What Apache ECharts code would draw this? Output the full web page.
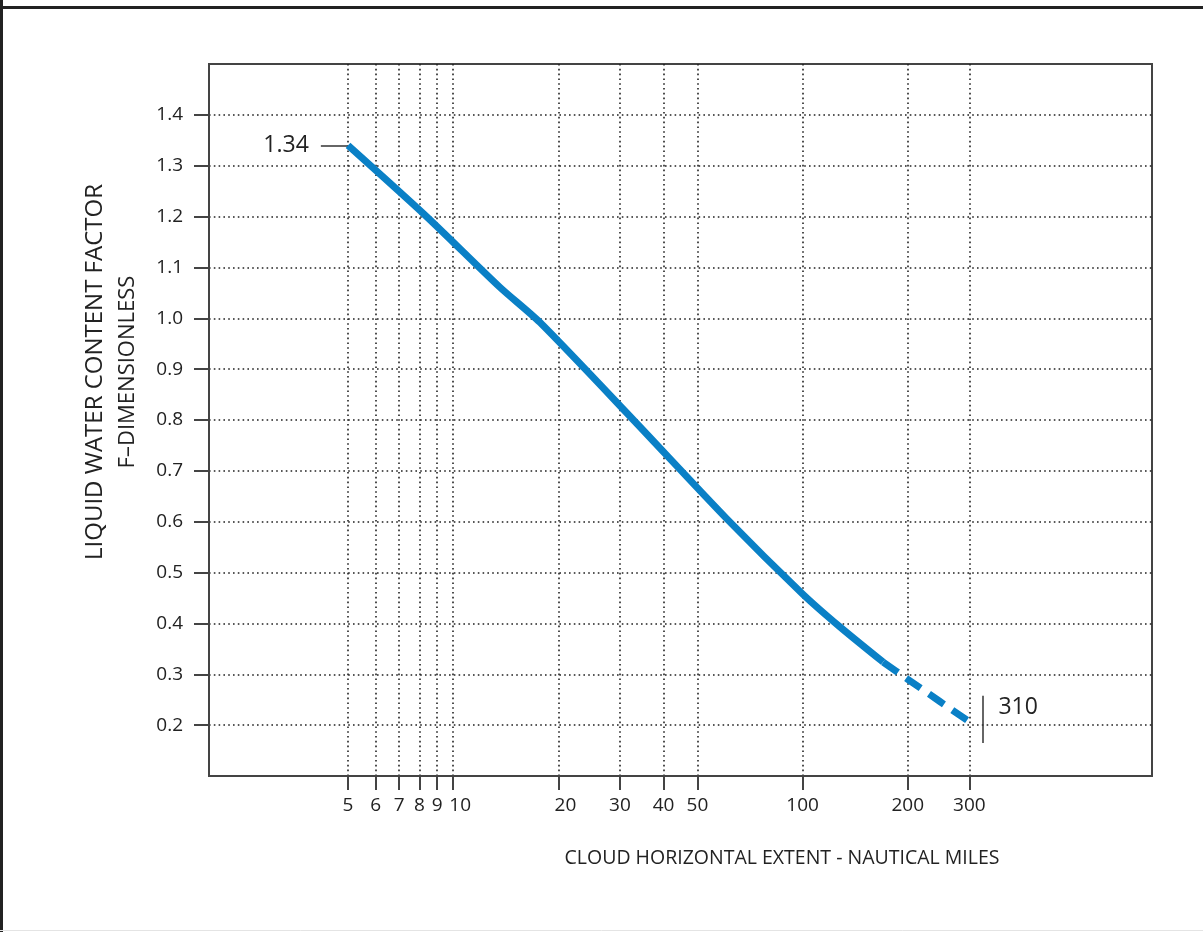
<!DOCTYPE html>
<html>
<head>
<meta charset="utf-8">
<script src="https://cdn.jsdelivr.net/npm/echarts@6/dist/echarts.min.js"></script>
<style>
html,body{margin:0;padding:0;background:#fff;}
#c{width:1203px;height:932px;}
</style>
</head>
<body>
<div id="c"></div>
<script>
// ---- data ----
const xTicks = [5, 6, 7, 8, 9, 10, 20, 30, 40, 50, 100, 200, 300];
const yTicks = [0.2, 0.3, 0.4, 0.5, 0.6, 0.7, 0.8, 0.9, 1.0, 1.1, 1.2, 1.3, 1.4];
// solid part of the curve: [miles, factor]
const solidX = [5, 8.39, 13.6, 17.7, 32.8, 60.6, 100, 128, 170];
const solidY = [1.34, 1.20, 1.061, 0.992, 0.80, 0.606, 0.458, 0.393, 0.324];
// dashed (extrapolated) part
const dashX = [170, 200, 310];
const dashY = [0.324, 0.29, 0.20];
// annotations
const startLabel = '1.34';
const endLabel = '310';
const xTitle = 'CLOUD HORIZONTAL EXTENT - NAUTICAL MILES';
const yTitle1 = 'LIQUID WATER CONTENT FACTOR';
const yTitle2 = 'F\u2013DIMENSIONLESS';

const zip = (a, b) => a.map((v, i) => [v, b[i]]);
const FONT = '"Open Sans", "DejaVu Sans", sans-serif';
const BLUE = '#0a80c6';
const DARK = '#333';

const chart = echarts.init(document.getElementById('c'), null, {renderer: 'canvas'});
chart.setOption({
  animation: false,
  backgroundColor: '#fff',
  grid: {left: 209, top: 64, right: 51, bottom: 156, show: true, borderColor: '#444', borderWidth: 2, backgroundColor: 'transparent'},
  xAxis: {
    type: 'log', logBase: 10, min: 2, max: 1000,
    axisLine: {show: true, onZero: false, lineStyle: {color: '#444', width: 2}},
    axisTick: {show: true, inside: false, length: 14, customValues: xTicks, lineStyle: {color: '#444', width: 2}},
    axisLabel: {
      show: true, customValues: xTicks, margin: 20, color: '#222', fontSize: 19, fontFamily: FONT,
      formatter: v => { const r = Math.round(v); return (r === 10 || r === 20) ? '{s|' + r + '}' : String(r); },
      rich: {s: {color: '#222', fontSize: 19, fontFamily: FONT, padding: [0, 0, 0, 14]}}
    },
    splitLine: {show: true, lineStyle: {color: '#222', width: 1.6, type: [1.6, 3.2]}},
    minorTick: {show: false}, minorSplitLine: {show: false}
  },
  yAxis: {
    type: 'value', min: 0.1, max: 1.5, interval: 0.1,
    axisLine: {show: true, onZero: false, lineStyle: {color: '#444', width: 2}},
    axisTick: {show: true, inside: false, length: 15, customValues: yTicks, lineStyle: {color: '#444', width: 2}},
    axisLabel: {show: true, customValues: yTicks, margin: 26, color: '#222', fontSize: 19, fontFamily: FONT, formatter: v => v.toFixed(1)},
    splitLine: {show: true, lineStyle: {color: '#222', width: 1.6, type: [1.6, 3.2]}}
  },
  series: [
    {
      type: 'line', data: zip(solidX, solidY), smooth: 0.25, showSymbol: false, symbol: 'none',
      lineStyle: {color: BLUE, width: 7, cap: 'butt'}, z: 5,
      markLine: {
        silent: true, symbol: 'none', animation: false,
        lineStyle: {color: DARK, width: 1.5, type: 'solid'},
        label: {show: true, position: 'start', distance: 12, formatter: startLabel, color: '#222', fontSize: 23, fontFamily: FONT},
        data: [[{coord: [4.18, 1.34]}, {coord: [5, 1.34]}]]
      }
    },
    {
      type: 'line', data: zip(dashX, dashY), smooth: 0.2, showSymbol: false, symbol: 'none',
      lineStyle: {color: BLUE, width: 7, type: [18, 10], cap: 'butt'}, z: 5,
      markLine: {
        silent: true, symbol: 'none', animation: false,
        lineStyle: {color: DARK, width: 1.5, type: 'solid'},
        label: {show: false},
        data: [[{coord: [327, 0.165]}, {coord: [327, 0.258]}]]
      },
      markPoint: {
        silent: true, symbol: 'circle', symbolSize: 0,
        label: {show: true, position: 'right', distance: 16, formatter: endLabel, color: '#222', fontSize: 23, fontFamily: FONT},
        data: [{coord: [327, 0.235]}]
      }
    }
  ],
  graphic: [
    {type: 'line', shape: {x1: 1.5, y1: 0, x2: 1.5, y2: 932}, style: {stroke: '#222', lineWidth: 3}, silent: true, z: 100},
    {type: 'line', shape: {x1: 0, y1: 7.5, x2: 1203, y2: 7.5}, style: {stroke: '#222', lineWidth: 3}, silent: true, z: 100},
    {type: 'line', shape: {x1: 0, y1: 930.5, x2: 1203, y2: 930.5}, style: {stroke: '#e4e4e4', lineWidth: 1}, silent: true, z: 100},
    {type: 'text', x: 782, y: 858, style: {text: xTitle, font: '19.5px ' + FONT, fill: '#222', textAlign: 'center', textVerticalAlign: 'middle'}},
    {type: 'text', x: 95, y: 372, rotation: Math.PI / 2, style: {text: yTitle1, font: '24px ' + FONT, fill: '#222', textAlign: 'center', textVerticalAlign: 'middle'}},
    {type: 'text', x: 128, y: 372, rotation: Math.PI / 2, style: {text: yTitle2, font: '22px ' + FONT, fill: '#222', textAlign: 'center', textVerticalAlign: 'middle'}}
  ]
});
</script>
</body>
</html>
